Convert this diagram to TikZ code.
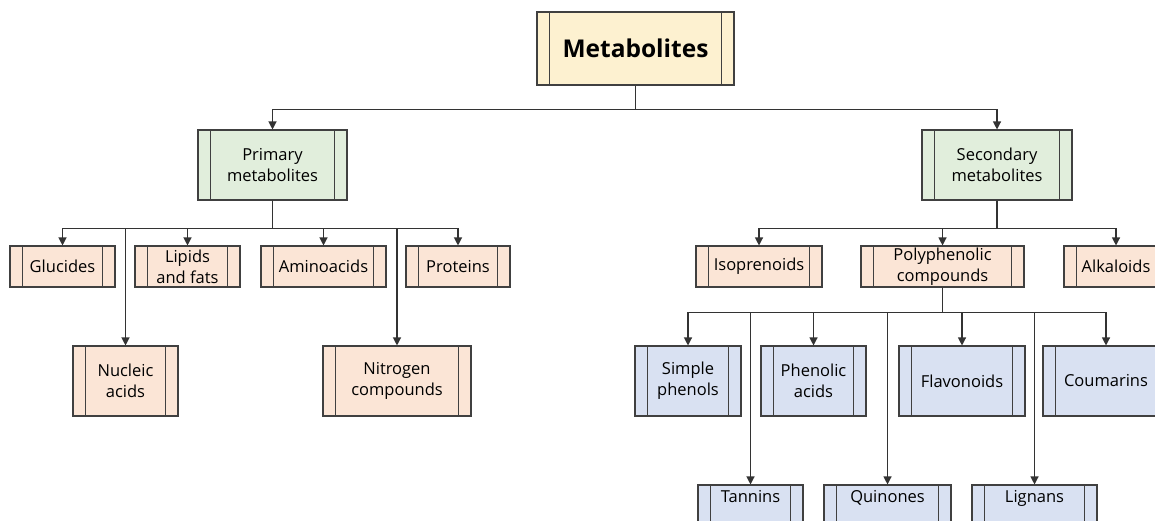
\documentclass[tikz,border=0pt]{standalone}
\usepackage{fontspec}
\setmainfont{Open Sans}
\usetikzlibrary{arrows.meta}
\definecolor{bordercol}{HTML}{404040}
\definecolor{linecol}{HTML}{333333}
\definecolor{metfill}{HTML}{FDF1D0}
\definecolor{greenfill}{HTML}{E1EEDC}
\definecolor{peachfill}{HTML}{FBE5D6}
\definecolor{bluefill}{HTML}{D9E1F2}
\tikzset{
  procbox/.style={draw=bordercol, line width=1.1pt, inner sep=0pt, align=center,
    font=\fontsize{16.5}{21}\selectfont,
    path picture={\draw[bordercol, line width=1.1pt]
      ([xshift=12.5pt]path picture bounding box.north west) -- ([xshift=12.5pt]path picture bounding box.south west)
      ([xshift=-12.5pt]path picture bounding box.north east) -- ([xshift=-12.5pt]path picture bounding box.south east);}},
  metbox/.style={procbox, fill=metfill, font=\fontsize{24.5}{29}\selectfont\bfseries},
  greenbox/.style={procbox, fill=greenfill, minimum height=70pt},
  peachbox/.style={procbox, fill=peachfill},
  bluebox/.style={procbox, fill=bluefill, minimum height=70pt},
  cutbox/.style={bluebox, text height=11pt, text depth=46pt},
  conn/.style={draw=linecol, line width=1.2pt, -{Triangle[width=8pt,length=8pt]}},
}
\begin{document}
\begin{tikzpicture}[x=1pt,y=-1pt]
\useasboundingbox (0,0) rectangle (1155,520);
\clip (0,0) rectangle (1155,520);
% top
\node[metbox, minimum width=197pt, minimum height=73pt] (met) at (635.5,48.5) {Metabolites};
\node[greenbox, minimum width=149pt] (prim) at (272.5,165) {Primary\\metabolites};
\node[greenbox, minimum width=150pt] (sec) at (997,165) {Secondary\\metabolites};
% primary children
\node[peachbox, minimum width=105pt, minimum height=41pt] (gluc) at (62.5,266.5) {Glucides};
\node[peachbox, minimum width=105pt, minimum height=41pt] (lip) at (187.5,266.5) {Lipids\\and fats};
\node[peachbox, minimum width=125pt, minimum height=41pt] (amino) at (323.5,266.5) {Aminoacids};
\node[peachbox, minimum width=104pt, minimum height=41pt] (prot) at (458,266.5) {Proteins};
\node[peachbox, minimum width=105pt, minimum height=70pt] (nuc) at (125.5,381) {Nucleic\\acids};
\node[peachbox, minimum width=148pt, minimum height=70pt] (nitro) at (397,381) {Nitrogen\\compounds};
% secondary children
\node[peachbox, minimum width=126pt, minimum height=41pt] (iso) at (759,266.5) {Isoprenoids};
\node[peachbox, minimum width=163pt, minimum height=41pt] (poly) at (942.5,266.5) {Polyphenolic\\compounds};
\node[peachbox, minimum width=104pt, minimum height=41pt] (alk) at (1116,266.5) {Alkaloids};
% polyphenolic children
\node[bluebox, minimum width=106pt] (simple) at (688,381) {Simple\\phenols};
\node[bluebox, minimum width=105pt] (phen) at (813.5,381) {Phenolic\\acids};
\node[bluebox, minimum width=126pt] (flav) at (962,381) {Flavonoids};
\node[bluebox, minimum width=126pt] (coum) at (1106,381) {Coumarins};
\node[cutbox, minimum width=105pt] (tann) at (750.5,520) {Tannins};
\node[cutbox, minimum width=127pt] (quin) at (887.5,520) {Quinones};
\node[cutbox, minimum width=125pt] (lign) at (1034.5,520) {Lignans};
% connectors
\draw[conn] (met.south) -- ++(0,24) -| (prim.north);
\draw[conn] (met.south) -- ++(0,24) -| (sec.north);
\foreach \t in {gluc,nuc,lip,amino,nitro,prot}
  \draw[conn] (prim.south) -- ++(0,28) -| (\t.north);
\foreach \t in {iso,poly,alk}
  \draw[conn] (sec.south) -- ++(0,28) -| (\t.north);
\foreach \t in {simple,tann,phen,quin,flav,lign,coum}
  \draw[conn] (poly.south) -- ++(0,25) -| (\t.north);
\end{tikzpicture}
\end{document}
